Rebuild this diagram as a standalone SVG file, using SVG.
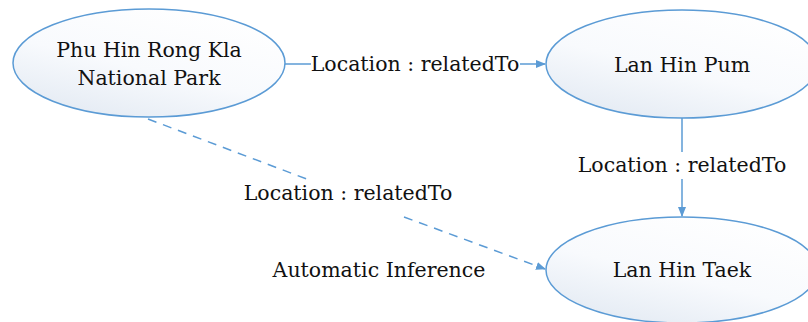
<svg xmlns="http://www.w3.org/2000/svg" width="808" height="322" viewBox="0 0 808 322">
<style>
.node ellipse{fill:url(#g);stroke:#5b9bd5;stroke-width:1.5}
text{font-family:"DejaVu Serif","Liberation Serif",serif;font-size:20.5px;fill:#111;text-anchor:middle;dominant-baseline:central}
.e{stroke:#5b9bd5;stroke-width:1.5;fill:none}
.d{stroke-dasharray:9,7}
</style>
<defs>
<linearGradient id="g" x1="0.8" y1="0" x2="0.2" y2="1">
<stop offset="0" stop-color="#ffffff"/>
<stop offset="0.55" stop-color="#f8fafd"/>
<stop offset="1" stop-color="#e3eaf3"/>
</linearGradient>
<marker id="a" markerWidth="10" markerHeight="8" refX="9" refY="4" orient="auto" markerUnits="userSpaceOnUse">
<path d="M0,0 L10,4 L0,8 Z" fill="#5b9bd5"/>
</marker>
</defs>
<g id="connectors">
<path class="e" d="M285,64 H311"/>
<path class="e" d="M520,64 H545" marker-end="url(#a)"/>
<path class="e" d="M682,118 V152"/>
<path class="e" d="M682,179 V216" marker-end="url(#a)"/>
<path class="e d" d="M148,119 L312,181"/>
<path class="e d" d="M404,217 L545,269" marker-end="url(#a)"/>
<text x="415" y="64">Location : relatedTo</text>
<text x="682" y="165">Location : relatedTo</text>
<text x="348" y="193">Location : relatedTo</text>
<text x="379" y="270">Automatic Inference</text>
</g>
<g id="n1" class="node">
<ellipse cx="149" cy="63" rx="136" ry="54"/>
<text x="149" y="50">Phu Hin Rong Kla</text>
<text x="149" y="78">National Park</text>
</g>
<g id="n2" class="node">
<ellipse cx="682" cy="64" rx="136" ry="54"/>
<text x="682" y="65">Lan Hin Pum</text>
</g>
<g id="n3" class="node">
<ellipse cx="682" cy="270" rx="136" ry="53"/>
<text x="682" y="270">Lan Hin Taek</text>
</g>
</svg>
